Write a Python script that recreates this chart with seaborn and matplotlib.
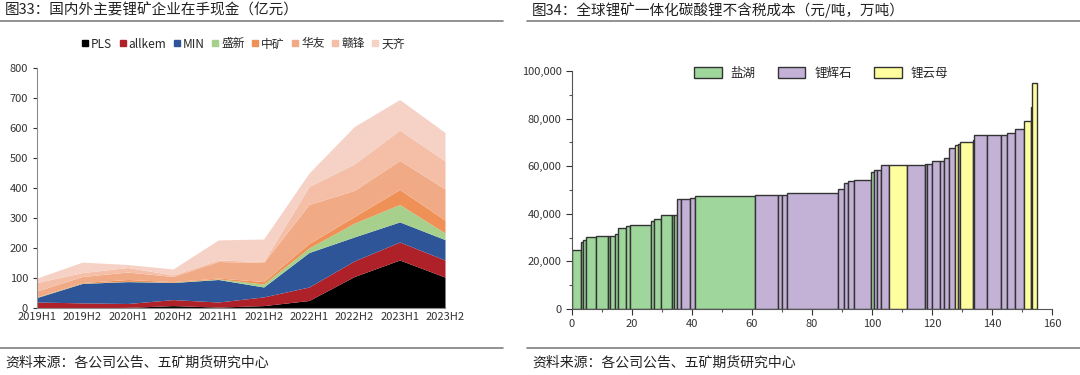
import numpy as np
import pandas as pd
import seaborn as sns
import matplotlib as mpl
from matplotlib import pyplot as plt
from matplotlib.lines import Line2D
from matplotlib.patches import Patch
from matplotlib.ticker import FuncFormatter, MultipleLocator

# ---- left chart data: cash on hand (亿元) ----
periods = ["2019H1", "2019H2", "2020H1", "2020H2", "2021H1",
           "2021H2", "2022H1", "2022H2", "2023H1", "2023H2"]
company_names = ["PLS", "allkem", "MIN", "盛新", "中矿", "华友", "赣锋", "天齐"]
pls = [0, 0, 2, 8, 3, 8, 25, 105, 160, 103]
allkem = [20, 17, 13, 20, 17, 29, 45, 52, 60, 57]
min_res = [15, 65, 73, 57, 75, 33, 115, 80, 67, 68]
shengxin = [1, 1, 1, 1, 2, 10, 15, 46, 58, 22]
zhongkuang = [1, 2, 6, 2, 3, 8, 15, 22, 50, 43]
huayou = [20, 20, 25, 17, 55, 64, 130, 87, 97, 104]
ganfeng = [28, 13, 15, 5, 5, 3, 60, 88, 101, 93]
tianqi = [15, 35, 10, 20, 67, 75, 45, 125, 102, 95]
company_colors = ["#000000", "#AF2129", "#2E5597", "#A8D08D",
                  "#EF9157", "#F1AA86", "#F4BFA6", "#F6D2C6"]

# ---- right chart data: cost curve (width = 万吨, height = 元/吨) ----
supply = [2.9, 0.7, 1.1, 3.4, 4.0, 0.7, 1.4, 1.1, 2.7, 1.2, 7.0, 1.1, 2.4, 3.5, 0.9, 0.8,
          1.3, 3.2, 1.6, 20.0, 7.6, 1.5, 1.7, 17.0, 1.7, 1.4, 2.1, 5.8, 1.0, 0.8,
          1.4, 2.6, 5.9, 6.0, 0.8, 1.8, 2.7, 1.1, 1.6, 2.3, 0.8, 0.6, 4.4, 0.5,
          4.1, 4.8, 2.0, 2.7, 2.9, 2.4, 0.3, 1.6]
cost = [24900, 28200, 29000, 30100, 30600, 30600, 30700, 31500, 34000, 35000, 35100,
        37000, 37900, 39500, 39600, 39600,
        46100, 46400, 46800, 47300, 47700, 48000, 48000, 48800, 50600, 53100, 53800,
        54300, 57600, 58300, 58500, 60400, 60400, 60400, 60800, 61000, 62000, 62000,
        63500, 67800, 69000, 69500, 70000, 71000, 73000, 73000, 73200, 73800, 75500,
        79000, 85000, 95000]
source = ["盐湖"] * 16 + ["锂辉石"] * 3 + ["盐湖"] + ["锂辉石"] * 8 + ["盐湖"] + \
         ["锂辉石"] * 3 + ["锂云母"] + ["锂辉石"] * 7 + ["锂云母", "锂辉石", "锂云母"] + \
         ["锂辉石"] * 6 + ["锂云母", "锂辉石", "锂云母"]
source_names = ["盐湖", "锂辉石", "锂云母"]
source_colors = {"盐湖": "#9ED69B", "锂辉石": "#C3B1D6", "锂云母": "#FFFE9E"}

sns.set_theme(style="ticks")
plt.rcParams['font.family'] = ['Noto Sans CJK SC', 'DejaVu Sans']
plt.rcParams['axes.unicode_minus'] = False

fig = plt.figure(figsize=(10.8, 3.75), dpi=100)

# headers / footers
fig.text(5 / 1080, 1 - 10 / 375, "图33：国内外主要锂矿企业在手现金（亿元）",
         fontsize=10.5, va="center", ha="left", color="#222222")
fig.text(532 / 1080, 1 - 10 / 375, "图34：全球锂矿一体化碳酸锂不含税成本（元/吨，万吨）",
         fontsize=10.5, va="center", ha="left", color="#222222")
fig.text(5 / 1080, 1 - 363 / 375, "资料来源：各公司公告、五矿期货研究中心",
         fontsize=10, va="center", ha="left", color="#222222", fontweight="medium")
fig.text(532 / 1080, 1 - 363 / 375, "资料来源：各公司公告、五矿期货研究中心",
         fontsize=10, va="center", ha="left", color="#222222", fontweight="medium")
for x0, x1, y in [(0, 503, 21), (527, 1080, 21), (0, 503, 348), (527, 1080, 348)]:
    fig.add_artist(Line2D([x0 / 1080, x1 / 1080], [1 - y / 375, 1 - y / 375],
                          color="#7f7f7f", lw=1.2, transform=fig.transFigure))

# ---- left: stacked area ----
ax1 = fig.add_axes([37 / 1080, 1 - 308 / 375, 408 / 1080, 240 / 375])
df_cash = pd.DataFrame(
    {"PLS": pls, "allkem": allkem, "MIN": min_res, "盛新": shengxin,
     "中矿": zhongkuang, "华友": huayou, "赣锋": ganfeng, "天齐": tianqi},
    index=periods)
x = np.arange(len(periods))
ax1.stackplot(x, [df_cash[c].values for c in company_names],
              colors=company_colors, linewidth=0)
ax1.set_xlim(0, len(periods) - 1)
ax1.set_ylim(0, 800)
ax1.set_yticks(range(0, 801, 100))
ax1.set_xticks(x)
ax1.set_xticklabels(periods)
ax1.tick_params(axis="both", labelsize=8, colors="#333333", length=3, width=0.8)
ax1.tick_params(axis="x", length=0, pad=3)
sns.despine(ax=ax1)
for s in ["left", "bottom"]:
    ax1.spines[s].set_color("#8c8c8c")
    ax1.spines[s].set_linewidth(0.8)

handles = [Line2D([], [], ls="", marker="s", markersize=5, color=c) for c in company_colors]
ax1.legend(handles, company_names, ncol=8, loc="center",
           bbox_to_anchor=((243 - 37) / 408, (308 - 44) / 240), frameon=False,
           fontsize=8.5, handlelength=0.6, handletextpad=0.2, columnspacing=0.6)

# ---- right: cost curve ----
ax2 = fig.add_axes([572 / 1080, 1 - 309 / 375, 480 / 1080, 238 / 375])
df_cost = pd.DataFrame({"supply": supply, "cost": cost, "source": source})
df_cost["start"] = df_cost["supply"].cumsum() - df_cost["supply"]
ax2.bar(df_cost["start"], df_cost["cost"], width=df_cost["supply"], align="edge",
        color=df_cost["source"].map(source_colors), edgecolor="#333333", linewidth=1.0)
ax2.set_xlim(0, 160)
ax2.set_ylim(0, 100000)
ax2.xaxis.set_major_locator(MultipleLocator(20))
ax2.xaxis.set_minor_locator(MultipleLocator(10))
ax2.yaxis.set_major_locator(MultipleLocator(20000))
ax2.yaxis.set_minor_locator(MultipleLocator(10000))
ax2.yaxis.set_major_formatter(FuncFormatter(lambda v, p: "{:,.0f}".format(v)))
ax2.tick_params(axis="both", which="major", labelsize=8, colors="#333333",
                length=4, width=0.8)
ax2.tick_params(axis="both", which="minor", length=2.5, width=0.8, color="#555555")
sns.despine(ax=ax2)
for s in ["left", "bottom"]:
    ax2.spines[s].set_color("#555555")
    ax2.spines[s].set_linewidth(0.8)

leg_handles = [Patch(facecolor=source_colors[n], edgecolor="#333333", linewidth=1.0)
               for n in source_names]
ax2.legend(leg_handles, source_names, ncol=3, loc="center",
           bbox_to_anchor=((821 - 572) / 480, (309 - 73) / 238), frameon=False,
           fontsize=9, handlelength=2.2, handleheight=1.0, handletextpad=0.7,
           columnspacing=1.8)

fig.savefig("out.png", dpi=100)
